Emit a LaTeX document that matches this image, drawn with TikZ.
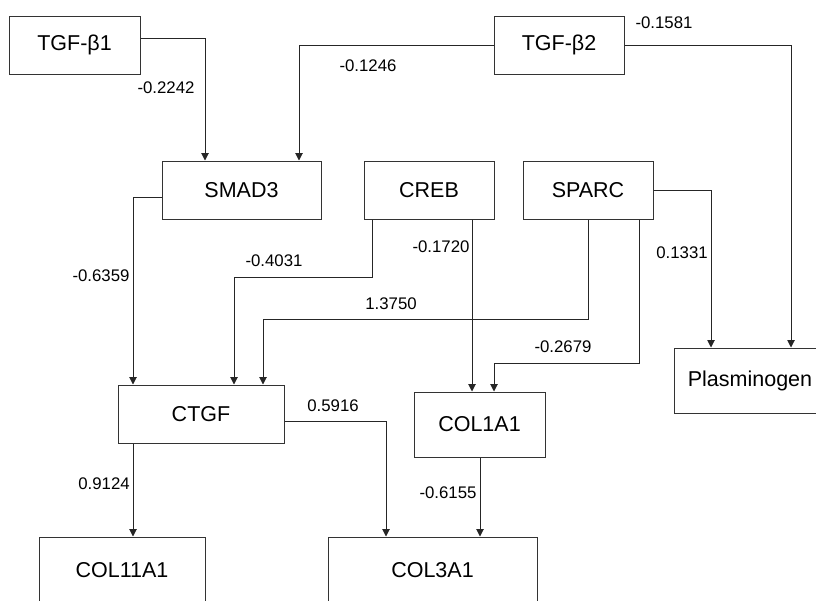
\documentclass[tikz,border=0pt]{standalone}
\usepackage{fontspec}
\setmainfont{Liberation Sans}
\usetikzlibrary{arrows.meta}
\begin{document}
\begin{tikzpicture}[x=1pt,y=-1pt,
  box/.style={draw=black!80,line width=1pt,rectangle,inner sep=0pt,font=\fontsize{21.5}{25}\selectfont},
  wt/.style={inner sep=0pt,font=\fontsize{16.8}{20}\selectfont},
  conn/.style={draw=black!85,line width=1pt,-{Triangle[width=7.5pt,length=7.5pt]}}]
\useasboundingbox (0,0) rectangle (816,600);
% nodes
\node[box,minimum width=131pt,minimum height=58pt] (t1) at (74.5,45) {TGF-β1};
\node[box,minimum width=130pt,minimum height=58pt] (t2) at (559,45) {TGF-β2};
\node[box,minimum width=159pt,minimum height=58pt] (smad3) at (241.5,190) {SMAD3};
\node[box,minimum width=130pt,minimum height=58pt] (creb) at (429,190) {CREB};
\node[box,minimum width=130pt,minimum height=58pt] (sparc) at (588,190) {SPARC};
\node[box,minimum width=152pt,minimum height=65pt] (plas) at (750,380.5) {Plasminogen};
\node[box,minimum width=166pt,minimum height=58pt] (ctgf) at (201,414) {CTGF};
\node[box,minimum width=131pt,minimum height=65pt] (col1a1) at (479.5,424.5) {COL1A1};
\node[box,minimum width=166pt,minimum height=66pt] (col11a1) at (122,570) {COL11A1};
\node[box,minimum width=209pt,minimum height=66pt] (col3a1) at (432.5,570) {COL3A1};
% connectors
\draw[conn] ([yshift=7pt]t1.east) -| ([xshift=-36.5pt]smad3.north);
\draw[conn] (t2.west) -| ([xshift=57.5pt]smad3.north);
\draw[conn] (t2.east) -| ([xshift=41pt]plas.north);
\draw[conn] ([yshift=-7pt]smad3.west) -| ([xshift=-68pt]ctgf.north);
\draw[conn] ([xshift=-57pt]creb.south) -- ++(0,58) -| ([xshift=33pt]ctgf.north);
\draw[conn] ([xshift=43pt]creb.south) -- ([xshift=-7.5pt]col1a1.north);
\draw[conn] (sparc.south) -- ++(0,100) -| ([xshift=62pt]ctgf.north);
\draw[conn] ([xshift=51pt]sparc.south) -- ++(0,144) -| ([xshift=14.5pt]col1a1.north);
\draw[conn] (sparc.east) -| ([xshift=-39pt]plas.north);
\draw[conn] ([yshift=-7pt]ctgf.east) -| ([xshift=-46.5pt]col3a1.north);
\draw[conn] ([xshift=-68pt]ctgf.south) -- ([xshift=11pt]col11a1.north);
\draw[conn] ([xshift=0.5pt]col1a1.south) -- ([xshift=47.5pt]col3a1.north);
% weights
\node[wt] (w1) at (166,88) {-0.2242};
\node[wt] (w2) at (368,66) {-0.1246};
\node[wt] (w3) at (664,23) {-0.1581};
\node[wt] (w4) at (101,276) {-0.6359};
\node[wt] (w5) at (274,261) {-0.4031};
\node[wt] (w6) at (391,304) {1.3750};
\node[wt] (w7) at (441,247) {-0.1720};
\node[wt] (w8) at (682,253) {0.1331};
\node[wt] (w9) at (563,347) {-0.2679};
\node[wt] (w10) at (333,406) {0.5916};
\node[wt] (w11) at (104,484) {0.9124};
\node[wt] (w12) at (448,493) {-0.6155};
\end{tikzpicture}
\end{document}
